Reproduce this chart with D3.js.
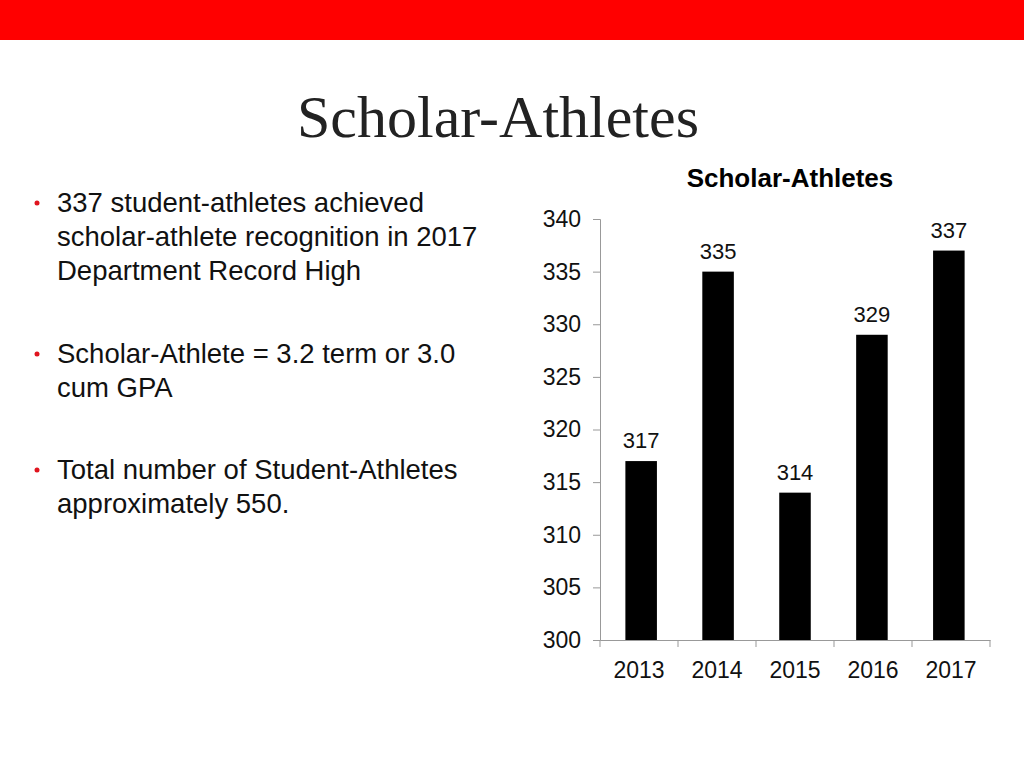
<!DOCTYPE html>
<html><head><meta charset="utf-8">
<script src="https://cdn.jsdelivr.net/npm/d3@7"></script>
<style>body{margin:0;background:#fff}</style>
</head><body>
<svg id="chart" width="1024" height="768"></svg>
<script>
var years = ["2013", "2014", "2015", "2016", "2017"];
var athletes = [317, 335, 314, 329, 337];
var yTicks = [300, 305, 310, 315, 320, 325, 330, 335, 340];
var bullets = [
    ["337 student-athletes achieved", "scholar-athlete recognition in 2017", "Department Record High"],
    ["Scholar-Athlete = 3.2 term or 3.0", "cum GPA"],
    ["Total number of Student-Athletes", "approximately 550."]
];

var svg = d3.select("#chart");
var sans = "Liberation Sans, Arial, sans-serif";

// red banner and slide title
svg.append("rect").attr("x", 0).attr("y", 0).attr("width", 1024).attr("height", 40).attr("fill", "#ff0000");
svg.append("text").attr("x", 498).attr("y", 137).attr("text-anchor", "middle")
    .attr("font-family", "Liberation Serif, serif").attr("font-size", 60).attr("fill", "#222")
    .text("Scholar-Athletes");

// bullet list
var blockY = [203, 354, 470];
bullets.forEach(function(lines, i){
    svg.append("circle").attr("cx", 37).attr("cy", blockY[i]).attr("r", 2.5).attr("fill", "#e0141e");
    lines.forEach(function(l, j){
        svg.append("text").attr("x", 57).attr("y", blockY[i] + 9 + j * 34)
            .attr("font-family", sans).attr("font-size", 27.5).attr("fill", "#111").text(l);
    });
});

// chart
var x = d3.scaleBand().domain(years).range([600, 990]).paddingInner(0.59).paddingOuter(0.33);
var y = d3.scaleLinear().domain([300, 340]).range([640, 219]);

svg.append("text").attr("x", 790).attr("y", 187).attr("text-anchor", "middle")
    .attr("font-family", sans).attr("font-weight", "bold").attr("font-size", 26).text("Scholar-Athletes");

var yAxis = svg.append("g").attr("transform", "translate(600,0)")
    .call(d3.axisLeft(y).tickValues(yTicks).tickSize(7).tickPadding(12));
var xBounds = d3.scaleBand().domain(years).range([600, 990]);
var xAxis = svg.append("g").attr("transform", "translate(0,640)")
    .call(d3.axisBottom(xBounds).tickSize(0).tickPadding(22));
// tick marks at category boundaries
svg.append("g").selectAll("line").data(years.concat(["end"])).join("line")
    .attr("x1", function(d, i){ return 600 + i * xBounds.bandwidth(); })
    .attr("x2", function(d, i){ return 600 + i * xBounds.bandwidth(); })
    .attr("y1", 640).attr("y2", 647).attr("stroke", "#999");

[yAxis, xAxis].forEach(function(a){
    a.selectAll("path,line").attr("stroke", "#999");
    a.selectAll("text").attr("font-family", sans).attr("font-size", 23).attr("fill", "#111");
});

svg.append("g").selectAll("rect").data(athletes).join("rect")
    .attr("x", function(d, i){ return x(years[i]); })
    .attr("width", x.bandwidth())
    .attr("y", function(d){ return y(d); })
    .attr("height", function(d){ return 640 - y(d); })
    .attr("fill", "#000");

svg.append("g").selectAll("text").data(athletes).join("text")
    .attr("x", function(d, i){ return x(years[i]) + x.bandwidth() / 2; })
    .attr("y", function(d){ return y(d) - 13; })
    .attr("text-anchor", "middle").attr("font-family", sans).attr("font-size", 22).attr("fill", "#111")
    .text(function(d){ return d; });
</script>
</body></html>
